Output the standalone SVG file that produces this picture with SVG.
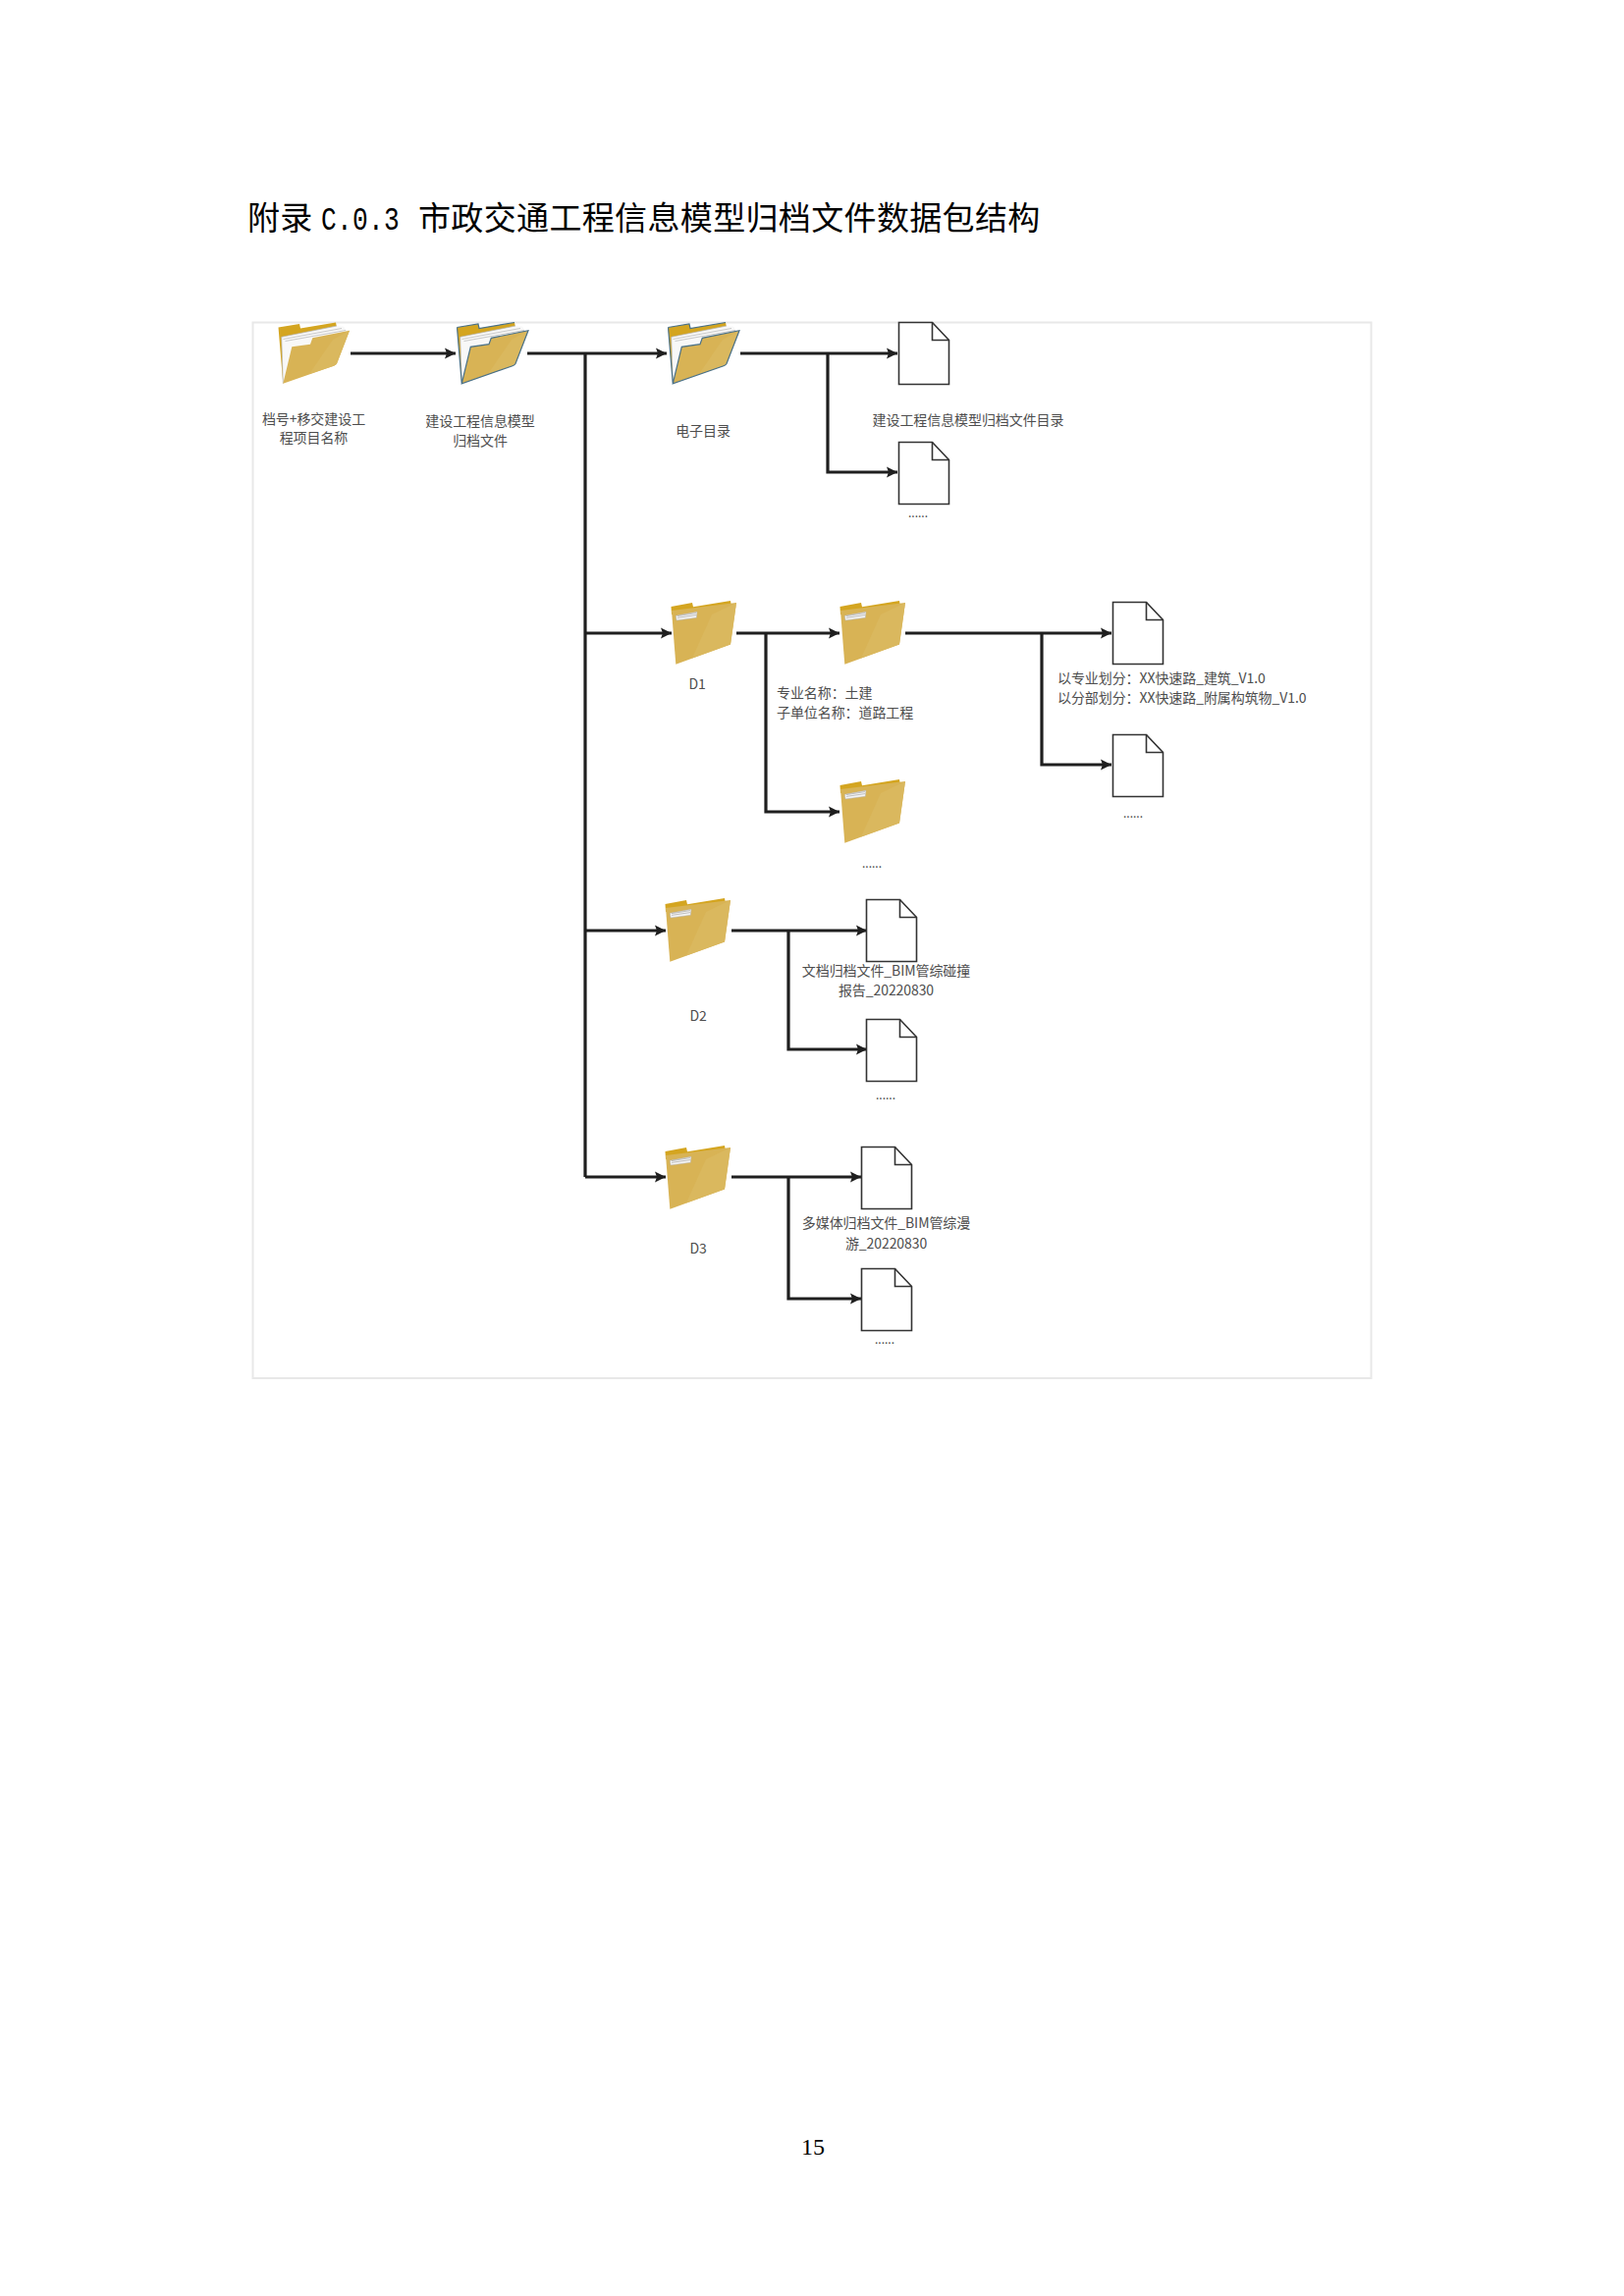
<svg xmlns="http://www.w3.org/2000/svg" width="1654" height="2339" viewBox="0 0 1654 2339">
<style>
text{font-family:"Noto Sans CJK SC","Noto Sans",sans-serif}
.t{font-size:14px;fill:#4d4d4d;letter-spacing:-.08px}
.m{text-anchor:middle}
.dots{font-size:12px;fill:#4d4d4d;text-anchor:middle}
.title{font-size:33px;fill:#000;letter-spacing:.35px}
.c{fill:none;stroke:#1f1f1f;stroke-width:3.2;marker-end:url(#arr)}
.b{fill:none;stroke:#1f1f1f;stroke-width:3.2}
.doc{fill:#fff;stroke:#333;stroke-width:1.6}
.fold{fill:none;stroke:#333;stroke-width:1.6}
.pl{fill:none;stroke:#b4b4b4;stroke-width:.7}
</style>
<defs>
<marker id="arr" markerUnits="userSpaceOnUse" markerWidth="12" markerHeight="12" viewBox="0 0 12 12" refX="11.500" refY="6" orient="auto">
<path d="M0.500 0.500 L11.500 6 L0.500 11.500 L2.500 6 Z" fill="#1f1f1f"/>
</marker>
<g id="doc"><path class="doc" d="M0 0H34L51 18V63H0Z"/><path class="fold" d="M34 0V18H51"/></g>
<g id="open">
<path d="M0.500 5.500L22 2L23 6.500L59 0.500L60.500 8L20 40L5.300 62.700Z" fill="#d4a520"/>
<path d="M3.700 15.300L60 4L67 4.700L69 7.500L73 8.700L5.300 62.700Z" fill="#f8f8f8"/>
<path d="M3.700 15.300L5.300 62.700M3.700 15.300L60 4M5.500 17.500L65 6.500M7.500 19.500L69 8.500" class="pl"/>
<path d="M5.300 62.700L14.300 25.300L33 22.700L35.300 16.300L73 8.700L60 42.500Q59 44 57 44.700Z" fill="#d8b355"/>
<path d="M32 53L56 18L73 8.700L60 42.500Q59 44 57 44.700Z" fill="#dab85e"/>
</g>
<g id="openB">
<use href="#open"/>
<path d="M0.500 5.500L22 2L23 6.500L59 0.500M5.300 62.700L14.300 25.300L33 22.700L35.300 16.300L73 8.700L60 42.500Q59 44 57 44.700ZM0.500 5.500L5.300 62.700" fill="none" stroke="#4a7188" stroke-width="1.2"/>
</g>
<g id="closed">
<path d="M0.500 6L22 2L23 6.300L61 0L62 6L1 14Z" fill="#d4a520"/>
<path d="M1 10L67 2L61 44.500L5.300 64.700Z" fill="#d8b355"/>
<path d="M22 58.500L42 14L67 2L61 44.500Z" fill="#dab85e"/>
<path d="M5.300 15.300L27 11.300L26.300 17.300L6 20Z" fill="#f4f4f4" stroke="#b0b0b0" stroke-width=".5"/>
<path d="M7 15.600L26 12.600M7 17.400L26 14.600" stroke="#a8a8a8" stroke-width=".7" fill="none"/>
</g>
</defs>
<rect width="1654" height="2339" fill="#fff"/>
<text id="title" class="title" y="234"><tspan x="252">附录</tspan><tspan x="327" font-family="'Liberation Mono',monospace" textLength="80" lengthAdjust="spacingAndGlyphs">C.0.3</tspan><tspan x="426">市政交通工程信息模型归档文件数据包结构</tspan></text>
<rect id="frame" x="257.500" y="328.500" width="1139" height="1075.500" fill="none" stroke="#e8e8e8" stroke-width="2"/>
<g id="connectors">
<path class="c" d="M357 360H464"/>
<path class="c" d="M537 360H679"/>
<path class="b" d="M596 360V1199"/>
<path class="c" d="M596 645H684"/>
<path class="c" d="M596 948H678"/>
<path class="c" d="M596 1199H678"/>
<path class="c" d="M754 360H914"/>
<path class="c" d="M843 360V481H914"/>
<path class="c" d="M750 645H855"/>
<path class="c" d="M780 645V827H855"/>
<path class="c" d="M922 645H1132"/>
<path class="c" d="M1061 645V779H1132"/>
<path class="c" d="M745 948H883"/>
<path class="c" d="M803 948V1069H883"/>
<path class="c" d="M745 1199H877"/>
<path class="c" d="M803 1199V1323H877"/>
</g>
<g id="n-root"><use href="#open" x="283" y="328"/><text class="t m" x="319.500" y="432">档号+移交建设工</text><text class="t m" x="319.500" y="451">程项目名称</text></g>
<g id="n-model"><use href="#openB" x="465" y="328"/><text class="t m" x="489" y="434">建设工程信息模型</text><text class="t m" x="489" y="454">归档文件</text></g>
<g id="n-catalog"><use href="#openB" x="680" y="328"/><text class="t m" x="716" y="444">电子目录</text></g>
<g id="n-catalog-doc"><use href="#doc" x="915.500" y="328.500"/><text class="t m" x="986" y="433">建设工程信息模型归档文件目录</text></g>
<g id="n-catalog-more"><use href="#doc" x="915.500" y="450.500"/><text class="dots" x="935" y="527">......</text></g>
<g id="n-d1"><use href="#closed" x="683" y="612"/><text class="t m" x="710" y="702">D1</text></g>
<g id="n-d1-a"><use href="#closed" x="855" y="612"/><text class="t" x="791" y="711">专业名称：土建</text><text class="t" x="791" y="731">子单位名称：道路工程</text></g>
<g id="n-d1-b"><use href="#closed" x="855" y="794"/><text class="dots" x="888" y="884">......</text></g>
<g id="n-d1-doc"><use href="#doc" x="1133.500" y="613.500"/><text class="t" x="1077" y="696">以专业划分：XX快速路_建筑_V1.0</text><text class="t" x="1077" y="716">以分部划分：XX快速路_附属构筑物_V1.0</text></g>
<g id="n-d1-more"><use href="#doc" x="1133.500" y="748.500"/><text class="dots" x="1154" y="833">......</text></g>
<g id="n-d2"><use href="#closed" x="677" y="915"/><text class="t m" x="711" y="1040">D2</text></g>
<g id="n-d2-doc"><use href="#doc" x="882.500" y="916.500"/><text class="t m" x="902.500" y="994">文档归档文件_BIM管综碰撞</text><text class="t m" x="902.500" y="1014">报告_20220830</text></g>
<g id="n-d2-more"><use href="#doc" x="882.500" y="1038.500"/><text class="dots" x="902" y="1120">......</text></g>
<g id="n-d3"><use href="#closed" x="677" y="1167"/><text class="t m" x="711" y="1277">D3</text></g>
<g id="n-d3-doc"><use href="#doc" x="877.500" y="1168.500"/><text class="t m" x="902.500" y="1251">多媒体归档文件_BIM管综漫</text><text class="t m" x="902.500" y="1272">游_20220830</text></g>
<g id="n-d3-more"><use href="#doc" x="877.500" y="1292.500"/><text class="dots" x="901" y="1369">......</text></g>
<text id="page" x="828" y="2195" font-size="24" fill="#000" text-anchor="middle" style="font-family:'Liberation Serif',serif">15</text>
</svg>
